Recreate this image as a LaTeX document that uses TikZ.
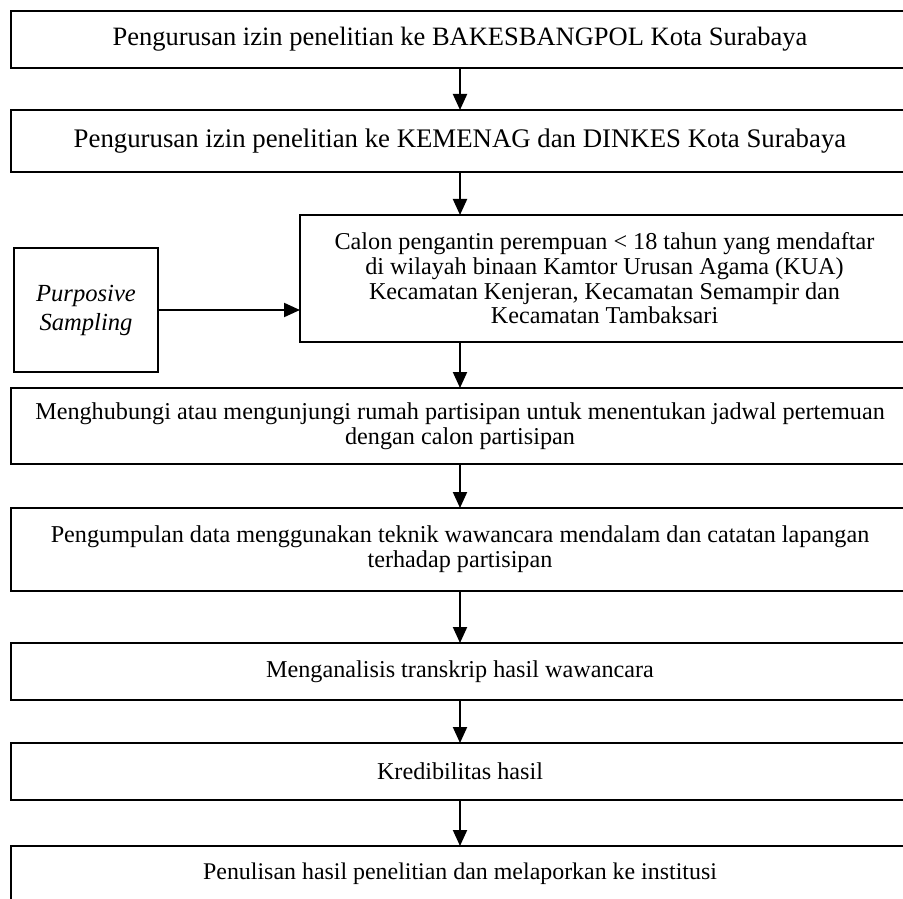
\documentclass[tikz,border=0pt]{standalone}
\usepackage{fontspec}
\setmainfont{Liberation Serif}
\usetikzlibrary{positioning,arrows.meta}

\begin{document}
\begin{tikzpicture}
  \tikzstyle{every node}=[font=\fontsize{12.1}{12.35}\selectfont]
  \tikzstyle{stepbox}=[rectangle, draw, line width=1pt, outer sep=0pt, minimum width=449pt,
                text centered, align=center]
  \clip (0,0) rectangle (451.5pt,-449pt);

  % Main boxes
  \node (izin1) [stepbox, minimum height=28.5pt, font=\fontsize{13.25}{12.35}\selectfont]
                at (230pt,-19.75pt)
                {Pengurusan izin penelitian ke BAKESBANGPOL Kota Surabaya};
  \node (izin2) [stepbox, minimum height=31pt, below=21pt of izin1,
                font=\fontsize{13.4}{12.35}\selectfont]
                {Pengurusan izin penelitian ke KEMENAG dan DINKES Kota Surabaya};
  \node (calon) [stepbox, minimum width=304.5pt, minimum height=63.5pt, below=21.5pt of izin2,
                xshift=72.25pt]
                {Calon pengantin perempuan < 18 tahun yang mendaftar\\ di wilayah binaan Kamtor Urusan Agama (KUA)\\
                Kecamatan Kenjeran, Kecamatan Semampir dan\\ Kecamatan Tambaksari};
  \node (kontak) [stepbox, minimum height=38pt, below=23pt of calon, xshift=-72.25pt]
                {Menghubungi atau mengunjungi rumah partisipan untuk menentukan jadwal pertemuan\\
                dengan calon partisipan};
  \node (data) [stepbox, minimum height=41.5pt, below=22pt of kontak]
                {Pengumpulan data menggunakan teknik wawancara mendalam dan catatan lapangan\\
                terhadap partisipan};
  \node (analisis) [stepbox, minimum height=28.5pt, below=26pt of data]
                {Menganalisis transkrip hasil wawancara};
  \node (kredibel) [stepbox, minimum height=28.5pt, below=21.5pt of analisis]
                {Kredibilitas hasil};
  \node (lapor) [stepbox, minimum height=28pt, below=23pt of kredibel,
                font=\fontsize{11.95}{12.35}\selectfont]
                {Penulisan hasil penelitian dan melaporkan ke institusi};

  % Sampling box
  \node (sampling) [rectangle, draw, line width=1pt, outer sep=0pt, minimum width=72pt,
                minimum height=62pt, align=center, left=71pt of calon, yshift=-15.75pt,
                font=\fontsize{12.3}{14.5}\selectfont]
                {\textit{Purposive}\\ \textit{Sampling}};

  % Arrows
  \tikzstyle{flow}=[line width=1pt,->,>={Triangle[length=8pt,width=7pt]}]
  \draw[flow] (izin1) to (izin2);
  \draw[flow] (izin2.south) to (izin2.south |- calon.north);
  \draw[flow] (calon.south -| kontak.north) to (kontak.north);
  \draw[flow] (kontak) to (data);
  \draw[flow] (data) to (analisis);
  \draw[flow] (analisis) to (kredibel);
  \draw[flow] (kredibel) to (lapor);
  \draw[flow] (sampling.east) to (sampling.east -| calon.west);
\end{tikzpicture}
\end{document}
